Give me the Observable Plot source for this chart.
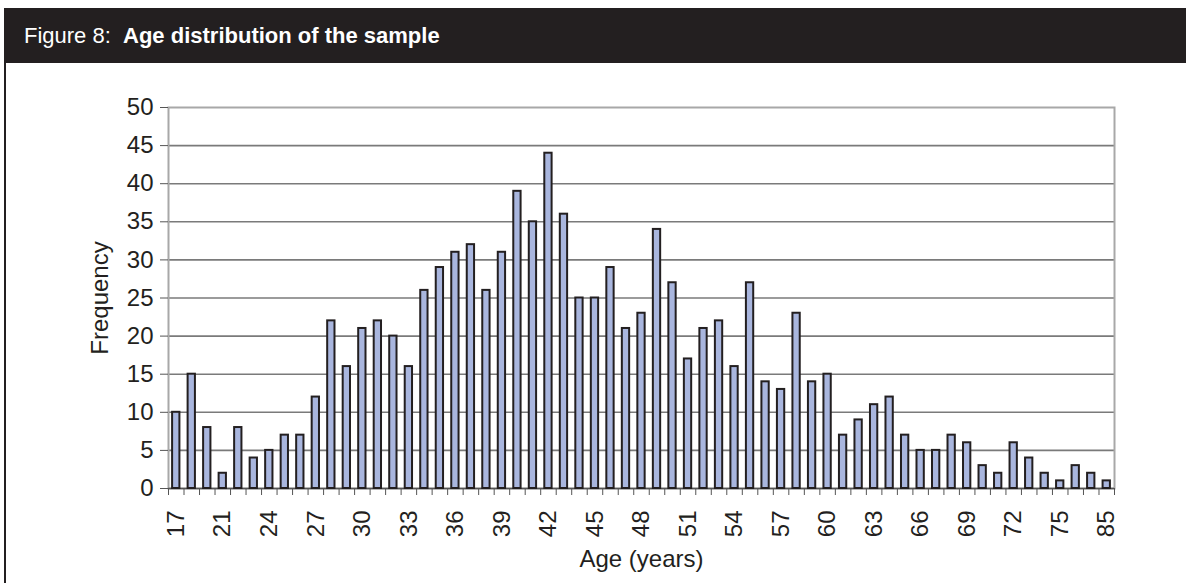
<!DOCTYPE html>
<html>
<head>
<meta charset="utf-8">
<script src="https://cdn.jsdelivr.net/npm/d3@7"></script>
<script src="https://cdn.jsdelivr.net/npm/@observablehq/plot@0.6"></script>
<style>
  html, body { margin: 0; padding: 0; background: #ffffff; }
  #wrap { position: absolute; left: 4px; top: 8px; width: 1182px; height: 575px; border-left: 2px solid #231f20; box-sizing: border-box; }
  #title { height: 55px; background: #231f20; color: #ffffff; font-family: "Liberation Sans", Arial, sans-serif; font-size: 22px; line-height: 55px; padding-left: 18px; white-space: pre; }
  #title b { font-weight: bold; }
  #chart { position: absolute; left: 0; top: 55px; }
</style>
</head>
<body>
<div id="wrap">
  <div id="title">Figure 8:  <b>Age distribution of the sample</b></div>
  <div id="chart"></div>
</div>
<script>
const ages = ["17","18","19","21","22","23","24","25","26","27","28","29","30","31","32","33","34","35","36","37","38","39","40","41","42","43","44","45","46","47","48","49","50","51","52","53","54","55","56","57","58","59","60","61","62","63","64","65","66","67","68","69","70","71","72","73","74","75","77","80","85"];
const frequency = [10,15,8,2,8,4,5,7,7,12,22,16,21,22,20,16,26,29,31,32,26,31,39,35,44,36,25,25,29,21,23,34,27,17,21,22,16,27,14,13,23,14,15,7,9,11,12,7,5,5,7,6,3,2,6,4,2,1,3,2,1];
const xTickLabels = ["17","21","24","27","30","33","36","39","42","45","48","51","54","57","60","63","66","69","72","75","85"];
const yTicks = [0,5,10,15,20,25,30,35,40,45,50];
const yTitle = "Frequency";
const xTitle = "Age (years)";

const data = ages.map((a, i) => ({age: a, freq: frequency[i]}));

const W = 1180, H = 520, ML = 162, MR = 72, MT = 44, MB = 95;
const step = (W - ML - MR) / ages.length;

const chart = Plot.plot({
  width: W, height: H,
  marginLeft: ML, marginRight: MR, marginTop: MT, marginBottom: MB,
  x: {type: "band", domain: ages, padding: 0},
  y: {domain: [0, 50]},
  style: {fontFamily: "'Liberation Sans', Arial, sans-serif", fontSize: "24px", color: "#231f20", background: "transparent"},
  marks: [
    Plot.ruleY(yTicks.filter(t => t > 0 && t < 50), {stroke: "#7a7a7a", strokeWidth: 1.6}),
    Plot.frame({stroke: "#a8a8a8", strokeWidth: 2}),
    Plot.ruleY([0], {stroke: "#555555", strokeWidth: 1.6}),
    Plot.barY(data, {x: "age", y: "freq", fill: "#a9b6de", stroke: "#231f20", strokeWidth: 2, insetLeft: 4.1, insetRight: 4.1}),
    Plot.axisY({ticks: yTicks, tickSize: 8, tickPadding: 7, label: null, stroke: "#555555", fontSize: 24}),
    Plot.axisX({ticks: ages, tickSize: 7, tickFormat: () => "", dx: -step / 2, label: null, stroke: "#555555"}),
    Plot.axisX({ticks: [ages[ages.length - 1]], tickSize: 7, tickFormat: () => "", dx: step / 2, label: null, stroke: "#555555"}),
    Plot.axisX({ticks: xTickLabels, tickSize: 0, tickRotate: -90, tickPadding: 22, label: null, fontSize: 24}),
    Plot.text([yTitle], {text: d => d, frameAnchor: "left", textAnchor: "middle", rotate: -90, dx: -68, fontSize: 24, fill: "#231f20"}),
    Plot.text([xTitle], {text: d => d, frameAnchor: "bottom", textAnchor: "middle", dy: 78, fontSize: 24, fill: "#231f20"})
  ]
});
document.getElementById("chart").appendChild(chart);
</script>
</body>
</html>
